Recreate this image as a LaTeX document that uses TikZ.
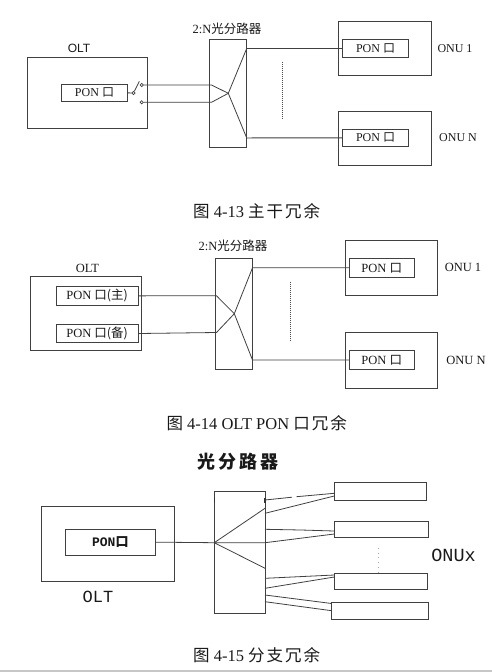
\documentclass[tikz,border=0pt]{standalone}
\usepackage{fontspec}
\setmainfont{Liberation Serif}
\newfontfamily\cjk{Noto Sans CJK SC}
\newfontfamily\cjkc{Noto Sans CJK SC}[LetterSpace=12]
\newfontfamily\monof{Liberation Mono}
\newfontfamily\sansf{Liberation Sans}
\usetikzlibrary{fit}
\newcommand{\fsz}[1]{\fontsize{#1}{#1}\selectfont}
\begin{document}
\begin{tikzpicture}[x=1pt,y=-1pt,
  ln/.style={draw=black!75, line width=0.8pt},
  dots/.style={draw=black!70, line width=0.8pt, dash pattern=on 0.7pt off 1.3pt},
  box/.style={draw=black!75, line width=0.8pt, inner sep=0pt, fit={#1}},
  lbl/.style={inner sep=0pt, text=black!90},
  contact/.style={circle, draw=black!75, line width=0.7pt, fill=white, inner sep=0pt, minimum size=3.2pt},
]
\useasboundingbox (0,0) rectangle (492,672);
\fill[white] (0,0) rectangle (492,672);

% ================= Figure 4-13 =================
\node[box={(27,57.5)(147.5,128.5)}] (olt1) {};
\node[lbl, font=\sansf\fsz{12}] (olt1l) at (79,48) {OLT};
\node[box={(61.7,84)(127.3,101.7)}] (pon1) {};
\node[lbl, font=\fsz{12}] (pon1t) at (pon1.center) {PON {\cjk 口}};
\node[contact] (sw0) at (133.5,93) {};
\node[contact] (swa) at (141.7,85) {};
\node[contact] (swb) at (141.7,102.3) {};
\coordinate (lever) at (139.3,81.3);
\draw[ln] (pon1.east) -- (sw0);
\draw[ln] (sw0) -- (lever);

\node[box={(209.5,39)(246.7,147)}] (sp1) {};
\node[lbl, font=\fsz{12.5}] (sp1l) at (227,29) {2:N{\cjk 光分路器}};
\coordinate (j1) at (228.3,93.3);
\coordinate (sp1a) at (211.5,85);
\coordinate (sp1b) at (211.5,102.3);
\coordinate (sp1u) at (246.7,48.5);
\coordinate (sp1d) at (246.7,137.9);

\node[box={(338.3,21.7)(431.7,75)}] (onu1) {};
\node[box={(342.7,39.3)(408.3,57.7)}] (onu1p) {};
\node[lbl, font=\fsz{12}] (onu1pt) at (onu1p.center) {PON {\cjk 口}};
\node[lbl, font=\fsz{12}] (onu1l) at (455,49) {ONU 1};
\node[box={(338.3,111)(431.7,165)}] (onun) {};
\node[box={(342.7,129)(408.3,146.7)}] (onunp) {};
\node[lbl, font=\fsz{12}] (onunpt) at (onunp.center) {PON {\cjk 口}};
\node[lbl, font=\fsz{12}] (onunl) at (458,138) {ONU N};

\draw[ln] (swa) -- (sp1a) -- (j1) -- (sp1u) -- (onu1p.west);
\draw[ln] (swb) -- (sp1b) -- (j1) -- (sp1d) -- (onunp.west);
\coordinate (d1a) at (282.7,61.7);
\coordinate (d1b) at (282.7,118.3);
\draw[dots] (d1a) -- (d1b);

\node[lbl, font=\fsz{16.5}] (cap1) at (256.7,210.7) {{\cjkc 图} 4-13 {\cjkc 主干冗余}};

% ================= Figure 4-14 =================
\node[box={(30,276.7)(141,350.7)}] (olt2) {};
\node[lbl, font=\fsz{12.5}] (olt2l) at (87.5,268.3) {OLT};
\node[box={(56,286.7)(138.3,305)}] (pm) {};
\node[lbl, font=\fsz{12.5}] (pmt) at (pm.center) {PON {\cjk 口(主)}};
\node[box={(56,324.3)(138.3,342.7)}] (pb) {};
\node[lbl, font=\fsz{12.5}] (pbt) at (pb.center) {PON {\cjk 口(备)}};

\node[box={(215,258.7)(252.5,369.3)}] (sp2) {};
\node[lbl, font=\fsz{12.5}] (sp2l) at (233,245.7) {2:N{\cjk 光分路器}};
\coordinate (j2) at (234.3,313.7);
\coordinate (sp2a) at (216.5,295.8);
\coordinate (sp2b) at (216.5,332.5);
\coordinate (sp2u) at (252.5,267.8);
\coordinate (sp2d) at (252.5,360);

\node[box={(345,240)(437.7,295.7)}] (onu21) {};
\node[box={(349.3,258.3)(414.3,277.3)}] (onu21p) {};
\node[lbl, font=\fsz{12.5}] (onu21pt) at (onu21p.center) {PON {\cjk 口}};
\node[lbl, font=\fsz{12.5}] (onu21l) at (463,267.7) {ONU 1};
\node[box={(345,332.3)(437.7,388.3)}] (onu2n) {};
\node[box={(349.3,350.7)(414.3,369.3)}] (onu2np) {};
\node[lbl, font=\fsz{12.5}] (onu2npt) at (onu2np.center) {PON {\cjk 口}};
\node[lbl, font=\fsz{12.5}] (onu2nl) at (466,360) {ONU N};

\draw[ln] (pm.east) -- (sp2a) -- (j2) -- (sp2d) -- (onu2np.west);
\draw[ln] (pb.east) -- (sp2b) -- (j2) -- (sp2u) -- (onu21p.west);
\coordinate (d2a) at (290,281.7);
\coordinate (d2b) at (290,340);
\draw[dots] (d2a) -- (d2b);

\node[lbl, font=\fsz{16.5}] (cap2) at (256.7,422.7) {{\cjkc 图} 4-14 OLT PON {\cjkc 口冗余}};

% ================= Figure 4-15 =================
\node[lbl, font=\cjk\bfseries\fsz{18}] (sp3l) at (238,461.7) {光\hspace{3pt}分\hspace{3pt}路\hspace{3pt}器};
\node[box={(41.7,506.7)(174,581)}] (olt3) {};
\node[box={(65,529.3)(155.7,555)}] (pon3) {};
\node[lbl, font=\monof\bfseries\fsz{13}] (pon3t) at (pon3.center) {PON{\cjk\bfseries 口}};
\node[lbl, font=\monof\fsz{17}] (olt3l) at (98,596.7) {OLT};

\node[box={(214.3,491)(265,613.3)}] (sp3) {};
\coordinate (j3) at (214.3,542.7);
\coordinate (f1) at (265,508.3);
\coordinate (f3) at (265,568.3);
\coordinate (tl1) at (214.3,497);
\coordinate (tl2) at (214.3,503);
\coordinate (tr1) at (265,497.5);
\coordinate (tr2) at (265,503);
\draw[draw=black!80, line width=1.6pt] (tl1) -- (tl2) (tr1) -- (tr2);

\coordinate (o1) at (265,500);
\coordinate (o2) at (265,513.3);
\coordinate (o3) at (265,529.3);
\coordinate (o4) at (265,542.7);
\coordinate (o5) at (265,578.3);
\coordinate (o6) at (265,588.3);
\coordinate (o7) at (265,595);
\coordinate (o8) at (265,601.7);

\node[box={(334.3,482.7)(426,500)}] (b1) {};
\node[box={(334.3,521.7)(428.3,537.7)}] (b2) {};
\node[box={(334.3,573.3)(427.3,589)}] (b3) {};
\node[box={(331.7,602.7)(428.3,619.3)}] (b4) {};
\node[lbl, font=\monof\fsz{18.5}] (onux) at (453.5,555) {ONUx};

\coordinate (e1) at (334.3,493.3);
\coordinate (e2) at (334.3,496);
\coordinate (e3) at (334.3,531);
\coordinate (e4) at (334.3,534);
\coordinate (e5) at (334.3,575);
\coordinate (e6) at (334.3,577);
\coordinate (e7) at (331.7,603.5);
\coordinate (e8) at (331.7,610.7);
\coordinate (g1a) at (292,497.2);
\coordinate (g1b) at (296.5,496.7);
\coordinate (k3) at (301,530);

\draw[ln] (pon3.east) -- (j3) -- (o4) -- (e4);
\draw[ln] (j3) -- (f1);
\draw[ln] (j3) -- (f3);
\draw[ln] (o1) -- (g1a) (g1b) -- (e1);
\draw[ln] (o2) -- (e2);
\draw[ln] (o3) -- (k3) -- (e3);
\draw[ln] (o5) -- (e5);
\draw[ln] (o6) -- (e6);
\draw[ln] (o7) -- (e7);
\draw[ln] (o8) -- (e8);
\coordinate (d3a) at (378.3,548);
\coordinate (d3b) at (378.3,573);
\draw[draw=black!35, line width=0.7pt, dash pattern=on 0.7pt off 4pt] (d3a) -- (d3b);

\node[lbl, font=\fsz{16.5}] (cap3) at (256.7,655) {{\cjkc 图} 4-15 {\cjkc 分支冗余}};
\coordinate (bl1) at (0,671);
\coordinate (bl2) at (492,671);
\draw[draw=black!22, line width=1.2pt] (bl1) -- (bl2);
\end{tikzpicture}
\end{document}
